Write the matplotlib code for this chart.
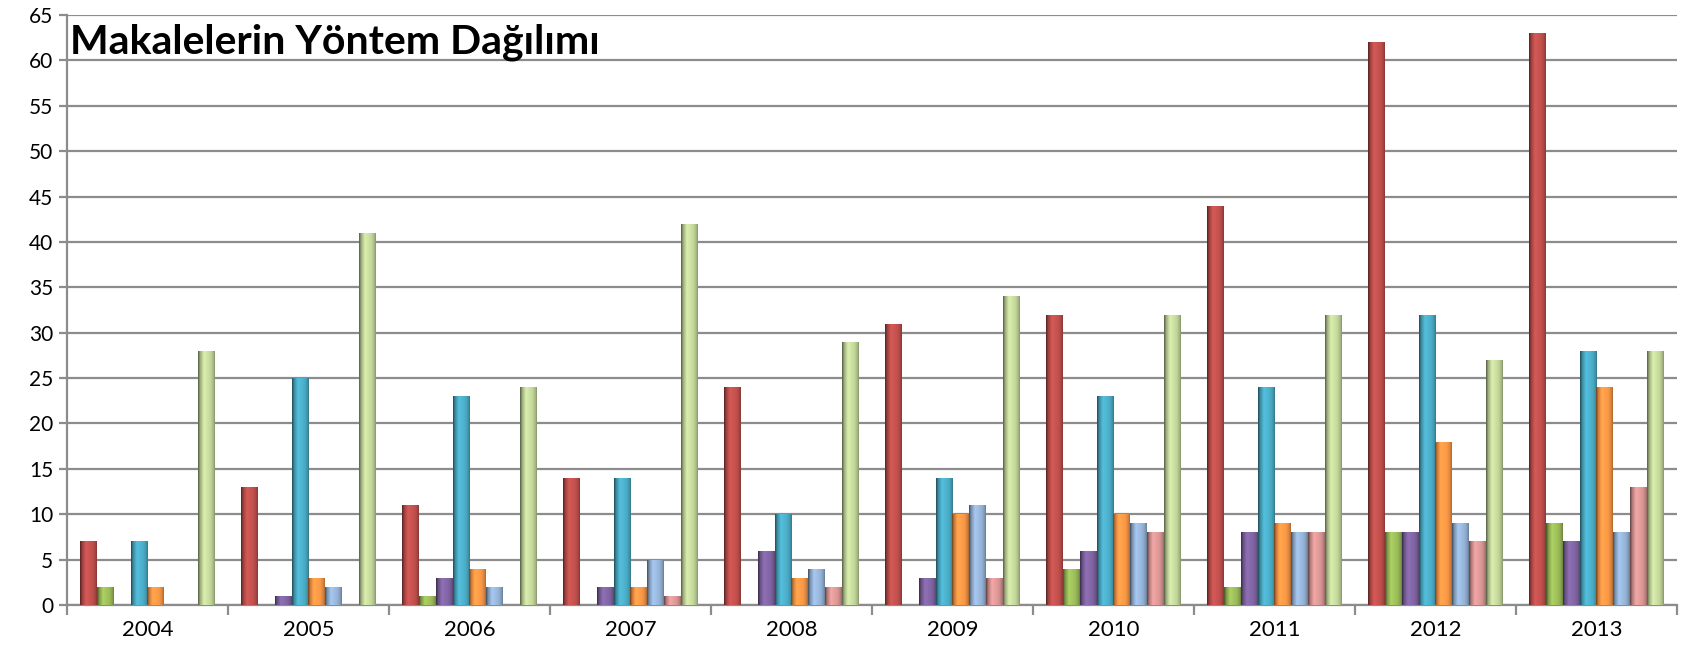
import numpy as np
import matplotlib
matplotlib.use("Agg")
import matplotlib.pyplot as plt
from matplotlib.colors import to_rgb

plt.rcParams["font.family"] = ["Lato", "DejaVu Sans"]

years = ["2004", "2005", "2006", "2007", "2008", "2009", "2010", "2011", "2012", "2013"]

# one list per method (series), in drawing order inside each year group
red = [7, 13, 11, 14, 24, 31, 32, 44, 62, 63]
green = [2, 0, 1, 0, 0, 0, 4, 2, 8, 9]
purple = [0, 1, 3, 2, 6, 3, 6, 8, 8, 7]
teal = [7, 25, 23, 14, 10, 14, 23, 24, 32, 28]
orange = [2, 3, 4, 2, 3, 10, 10, 9, 18, 24]
light_blue = [0, 2, 2, 5, 4, 11, 9, 8, 9, 8]
pink = [0, 0, 0, 1, 2, 3, 8, 8, 7, 13]
light_green = [28, 41, 24, 42, 29, 34, 32, 32, 27, 28]

series = [red, green, purple, teal, orange, light_blue, pink, light_green]
colors = ["#C0504D", "#9BBB59", "#8064A2", "#4BACC6",
          "#F79646", "#95B3D7", "#D99694", "#C3D69B"]

title = "Makalelerin Yöntem Dağılımı"


def shade_strip(color, n=40):
    # cylinder-like horizontal shading: dark left edge, highlight, dark right edge
    base = np.array(to_rgb(color))
    t = np.linspace(0, 1, n)
    f = np.interp(t, [0, 0.12, 0.35, 0.75, 0.92, 1.0], [0.45, 0.8, 1.12, 1.0, 0.85, 0.7])
    rgb = np.clip(base[None, :] * f[:, None], 0, 1)
    return rgb[None, :, :]


fig = plt.figure(figsize=(16.82, 6.52), dpi=100)
ax = fig.add_axes([0.0398, 0.0721, 0.9572, 0.9049])

n_series = len(series)
bar_w = 1 / 9.6
x = np.arange(len(years))
offsets = (np.arange(n_series) - (n_series - 1) / 2) * bar_w

for vals, col, off in zip(series, colors, offsets):
    bars = ax.bar(x + off, vals, width=bar_w, color=col, linewidth=0, zorder=3)
    strip = shade_strip(col)
    for b in bars:
        h = b.get_height()
        if h <= 0:
            continue
        x0 = b.get_x()
        im = ax.imshow(strip, extent=[x0, x0 + b.get_width(), 0, h],
                       aspect="auto", interpolation="bilinear", zorder=3.5)
        im.set_clip_path(b)

ax.set_xlim(-0.5, len(years) - 0.5)
ax.set_ylim(0, 65)
ax.set_yticks(np.arange(0, 66, 5))
ax.set_xticks(x)
ax.set_xticklabels(years)
ax.set_xticks(np.arange(-0.5, len(years), 1), minor=True)

ax.grid(axis="y", color="#8C8C8C", linewidth=1.6, zorder=0)
ax.set_axisbelow(True)
for side in ["top", "right"]:
    ax.spines[side].set_visible(False)
for side in ["left", "bottom"]:
    ax.spines[side].set_color("#8C8C8C")
    ax.spines[side].set_linewidth(1.6)

ax.tick_params(axis="y", length=6, width=1.6, color="#8C8C8C", labelsize=15, pad=4)
ax.tick_params(axis="x", which="major", length=0, labelsize=16, pad=11)
ax.tick_params(axis="x", which="minor", length=7, width=1.6, color="#8C8C8C")

ax.text(0.002, 0.985, title, transform=ax.transAxes, ha="left", va="top",
        fontsize=29.5, fontweight="bold", zorder=5)

fig.savefig("out.png", dpi=100)
